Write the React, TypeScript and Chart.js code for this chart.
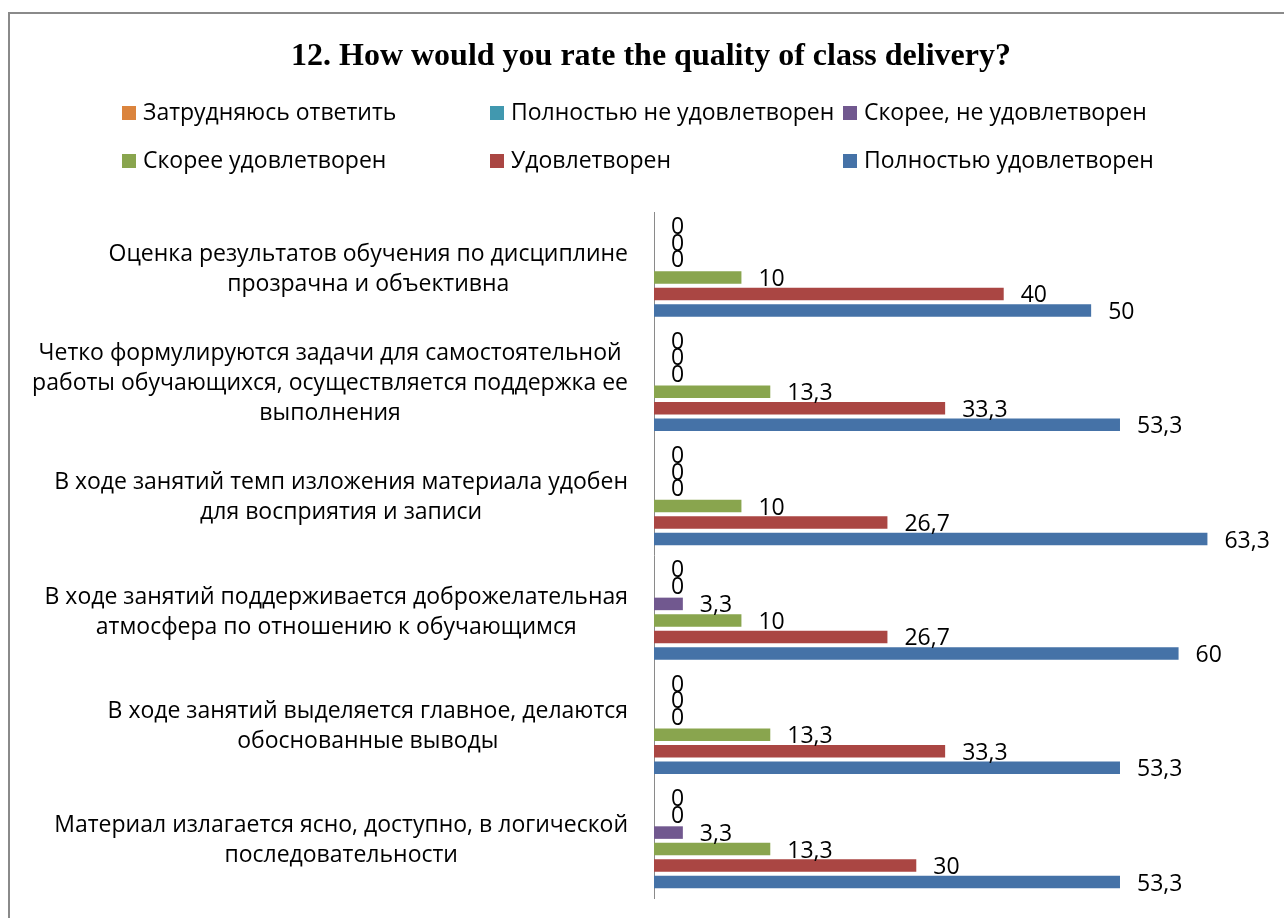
import React, { useEffect, useRef } from "react";
import { Chart, registerables } from "chart.js";

Chart.register(...registerables);

const TITLE = "12. How would you rate the quality of class delivery?";

const categories: string[][] = [
  ["Оценка результатов обучения по дисциплине", "прозрачна и объективна"],
  [
    "Четко формулируются задачи для самостоятельной",
    "работы обучающихся, осуществляется поддержка ее",
    "выполнения",
  ],
  ["В ходе занятий темп изложения материала удобен", "для восприятия и записи"],
  ["В ходе занятий поддерживается доброжелательная", "атмосфера по отношению к обучающимся"],
  ["В ходе занятий выделяется главное, делаются", "обоснованные выводы"],
  ["Материал излагается ясно, доступно, в логической", "последовательности"],
];

const seriesNames = [
  "Затрудняюсь ответить",
  "Полностью не удовлетворен",
  "Скорее, не удовлетворен",
  "Скорее удовлетворен",
  "Удовлетворен",
  "Полностью удовлетворен",
];

const zatrudnyayus = [0, 0, 0, 0, 0, 0];
const polnostyuNe = [0, 0, 0, 0, 0, 0];
const skoreeNe = [0, 0, 0, 3.3, 0, 3.3];
const skoreeUd = [10, 13.3, 10, 10, 13.3, 13.3];
const udovletvoren = [40, 33.3, 26.7, 26.7, 33.3, 30];
const polnostyuUd = [50, 53.3, 63.3, 60, 53.3, 53.3];

const seriesValues = [zatrudnyayus, polnostyuNe, skoreeNe, skoreeUd, udovletvoren, polnostyuUd];
const seriesColors = ["#DB843D", "#4198AF", "#71588F", "#89A54E", "#AA4643", "#4572A7"];

const FONT = "'Open Sans', 'Noto Sans', sans-serif";
const TEXT_SIZE = 23;

const fmt = (v: number) => String(v).replace(".", ",");

const overlay = {
  id: "overlay",
  beforeDraw(chart: any) {
    const ctx = chart.ctx;
    ctx.save();
    ctx.fillStyle = "#ffffff";
    ctx.fillRect(0, 0, chart.width, chart.height);
    ctx.strokeStyle = "#8a8a8a";
    ctx.lineWidth = 2;
    ctx.strokeRect(9, 13, 1400, 1000);
    ctx.restore();
  },
  afterDraw(chart: any) {
    const ctx = chart.ctx;
    const area = chart.chartArea;
    ctx.save();

    // Title
    ctx.fillStyle = "#000";
    ctx.font = "bold 32px 'Liberation Serif', 'Times New Roman', serif";
    ctx.textAlign = "center";
    ctx.textBaseline = "alphabetic";
    ctx.fillText(TITLE, 651, 65);

    // Legend (3 columns x 2 rows)
    const colX = [122, 490, 843];
    const rowY = [113, 161];
    ctx.font = `${TEXT_SIZE}px ${FONT}`;
    ctx.textAlign = "left";
    ctx.textBaseline = "middle";
    chart.data.datasets.forEach((ds: any, i: number) => {
      const x = colX[i % 3];
      const y = rowY[Math.floor(i / 3)];
      ctx.fillStyle = ds.backgroundColor;
      ctx.fillRect(x, y - 7, 14, 14);
      ctx.fillStyle = "#000";
      ctx.fillText(ds.label, x + 21, y);
    });

    // Category labels
    const yScale = chart.scales.y;
    const labelRight = area.left - 26;
    const lineH = 30;
    ctx.textAlign = "center";
    ctx.textBaseline = "middle";
    ctx.fillStyle = "#000";
    (chart.data.labels as string[][]).forEach((lines, idx) => {
      const cy = yScale.getPixelForValue(idx);
      const widths = lines.map((l) => ctx.measureText(l).width);
      const maxW = Math.max(...widths);
      const cx = labelRight - maxW / 2;
      const top = cy - ((lines.length - 1) * lineH) / 2;
      lines.forEach((l, k) => ctx.fillText(l, cx, top + k * lineH));
    });

    // Data labels
    ctx.textAlign = "left";
    chart.data.datasets.forEach((ds: any, i: number) => {
      const meta = chart.getDatasetMeta(i);
      meta.data.forEach((el: any, j: number) => {
        const v = ds.data[j];
        const off = v === 0 ? 0 : 2;
        ctx.fillText(fmt(v), el.x + 17, el.y + off);
      });
    });

    ctx.restore();
  },
};

export default function App() {
  const ref = useRef<HTMLCanvasElement | null>(null);

  useEffect(() => {
    if (!ref.current) return;
    const chart = new Chart(ref.current, {
      type: "bar",
      data: {
        labels: categories as any,
        datasets: seriesNames.map((name, i) => ({
          label: name,
          data: seriesValues[i],
          backgroundColor: seriesColors[i],
          borderWidth: 0,
          categoryPercentage: 0.866,
          barPercentage: 0.76,
        })),
      },
      options: {
        indexAxis: "y",
        responsive: false,
        animation: false,
        devicePixelRatio: 1,
        layout: { padding: { left: 654, right: 18, top: 212, bottom: 20 } },
        plugins: {
          legend: { display: false },
          title: { display: false },
          tooltip: { enabled: false },
        },
        scales: {
          x: { display: false, min: 0, max: 70 },
          y: {
            display: true,
            grid: { display: false, drawTicks: false, tickLength: 0 },
            border: { display: true, color: "#8a8a8a", width: 1 },
            ticks: { display: false },
            afterFit: (s: any) => {
              s.width = 0;
            },
          },
        },
      },
      plugins: [overlay],
    });
    return () => chart.destroy();
  }, []);

  return (
    <div style={{ position: "fixed", left: 0, top: 0, width: 1284, height: 918, overflow: "hidden", background: "#fff" }}>
      <canvas ref={ref} width={1284} height={918} style={{ display: "block" }} />
    </div>
  );
}
